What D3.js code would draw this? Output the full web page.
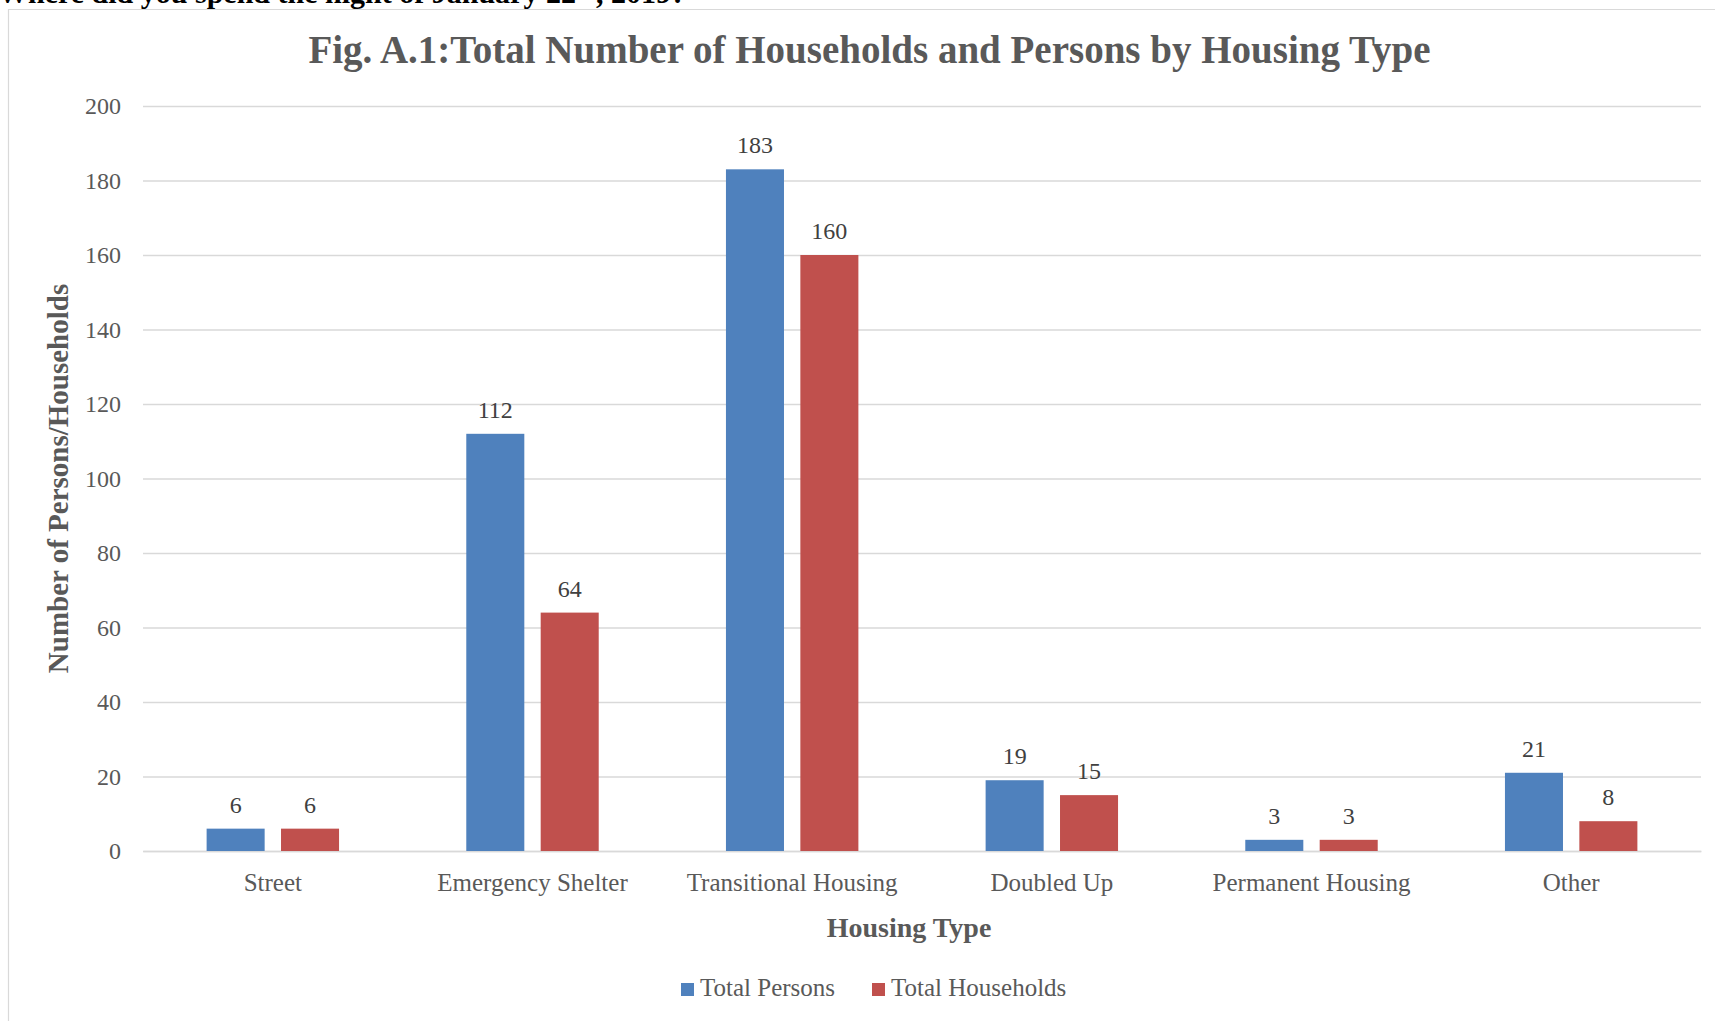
<!DOCTYPE html>
<html>
<head>
<meta charset="utf-8">
<style>
  body { margin: 0; background: #fff; }
  svg { display: block; font-family: "Liberation Serif", "Times New Roman", serif; }
  .grid line { stroke: #d9d9d9; stroke-width: 1.3px; }
  .grid .domain { display: none; }
  .tick text { fill: #595959; }
  .xaxis .domain { stroke: #d9d9d9; stroke-width: 1.3px; }
</style>
<script src="https://cdnjs.cloudflare.com/ajax/libs/d3/7.8.5/d3.min.js"></script>
</head>
<body>
<div id="chart"></div>
<script>
// data
const categories = ["Street", "Emergency Shelter", "Transitional Housing", "Doubled Up", "Permanent Housing", "Other"];
const seriesNames = ["Total Persons", "Total Households"];
const totalPersons = [6, 112, 183, 19, 3, 21];
const totalHouseholds = [6, 64, 160, 15, 3, 8];
const yTicks = [0, 20, 40, 60, 80, 100, 120, 140, 160, 180, 200];
const colors = ["#4f81bd", "#c0504d"];

const width = 1715, height = 1021;
const plotLeft = 143, plotRight = 1701, plotTop = 106, plotBottom = 851;
const textColor = "#595959";

var svg = d3.select("#chart").append("svg")
    .attr("width", width)
    .attr("height", height);

// page text cut off above the chart box
var cut = svg.append("text")
    .attr("x", -2).attr("y", 3)
    .attr("font-size", 30).attr("font-weight", "bold").attr("fill", "#000");
cut.append("tspan").text("Where did you spend the night of January 22");
cut.append("tspan").attr("font-size", 18).attr("dy", -12).text("nd");
cut.append("tspan").attr("dy", 12).text(", 2019?");

// chart box border (left and top visible)
svg.append("path")
    .attr("d", "M8.5," + height + "V9.5H" + width)
    .attr("fill", "none")
    .attr("stroke", "#d9d9d9")
    .attr("stroke-width", 1.2);

var x0 = d3.scaleBand().domain(categories).range([plotLeft, plotRight]);
var bw = x0.bandwidth();
var x1 = d3.scaleBand().domain(seriesNames)
    .range([bw * 0.245, bw * 0.755])
    .paddingInner(0.22);

var y = d3.scaleLinear().domain([0, 200]).range([plotBottom, plotTop]);

// gridlines + y tick labels
svg.append("g")
    .attr("class", "grid")
    .attr("transform", "translate(" + plotLeft + ",0)")
    .call(d3.axisLeft(y).tickValues(yTicks).tickSize(-(plotRight - plotLeft)).tickPadding(22))
    .selectAll("text")
    .attr("font-size", 24)
    .attr("font-family", "Liberation Serif");

// x axis
svg.append("g")
    .attr("class", "xaxis")
    .attr("transform", "translate(0," + plotBottom + ")")
    .call(d3.axisBottom(x0).tickSize(0).tickSizeOuter(0).tickPadding(22))
    .selectAll("text")
    .attr("font-size", 25)
    .attr("font-family", "Liberation Serif");

// bars
var rows = categories.map(function(c, i){
  return { cat: c, vals: [totalPersons[i], totalHouseholds[i]] };
});

var groups = svg.append("g").selectAll("g")
    .data(rows)
    .join("g")
    .attr("transform", function(d){ return "translate(" + x0(d.cat) + ",0)"; });

groups.selectAll("rect")
    .data(function(d){ return d.vals.map(function(v, j){ return { s: seriesNames[j], v: v, j: j }; }); })
    .join("rect")
    .attr("x", function(d){ return x1(d.s); })
    .attr("y", function(d){ return y(d.v); })
    .attr("width", x1.bandwidth())
    .attr("height", function(d){ return y(0) - y(d.v); })
    .attr("fill", function(d){ return colors[d.j]; });

groups.selectAll("text")
    .data(function(d){ return d.vals.map(function(v, j){ return { s: seriesNames[j], v: v }; }); })
    .join("text")
    .attr("x", function(d){ return x1(d.s) + x1.bandwidth() / 2; })
    .attr("y", function(d){ return y(d.v) - 16; })
    .attr("text-anchor", "middle")
    .attr("font-size", 24)
    .attr("fill", "#404040")
    .text(function(d){ return d.v; });

// titles
svg.append("text")
    .attr("x", 869.5).attr("y", 63)
    .attr("text-anchor", "middle")
    .attr("font-size", 39).attr("font-weight", "bold")
    .attr("fill", textColor)
    .text("Fig. A.1:Total Number of Households and Persons by Housing Type");

svg.append("text")
    .attr("x", 909).attr("y", 937)
    .attr("text-anchor", "middle")
    .attr("font-size", 28).attr("font-weight", "bold")
    .attr("fill", textColor)
    .text("Housing Type");

svg.append("text")
    .attr("transform", "translate(68," + (plotTop + plotBottom) / 2 + ") rotate(-90)")
    .attr("text-anchor", "middle")
    .attr("font-size", 29).attr("font-weight", "bold")
    .attr("fill", textColor)
    .text("Number of Persons/Households");

// legend
var legendX = [681, 872];
var legend = svg.append("g").selectAll("g")
    .data(seriesNames)
    .join("g")
    .attr("transform", function(d, i){ return "translate(" + legendX[i] + ",983)"; });

legend.append("rect")
    .attr("width", 13).attr("height", 13)
    .attr("fill", function(d, i){ return colors[i]; });

legend.append("text")
    .attr("x", 19).attr("y", 13)
    .attr("font-size", 25)
    .attr("fill", textColor)
    .text(function(d){ return d; });
</script>
</body>
</html>
